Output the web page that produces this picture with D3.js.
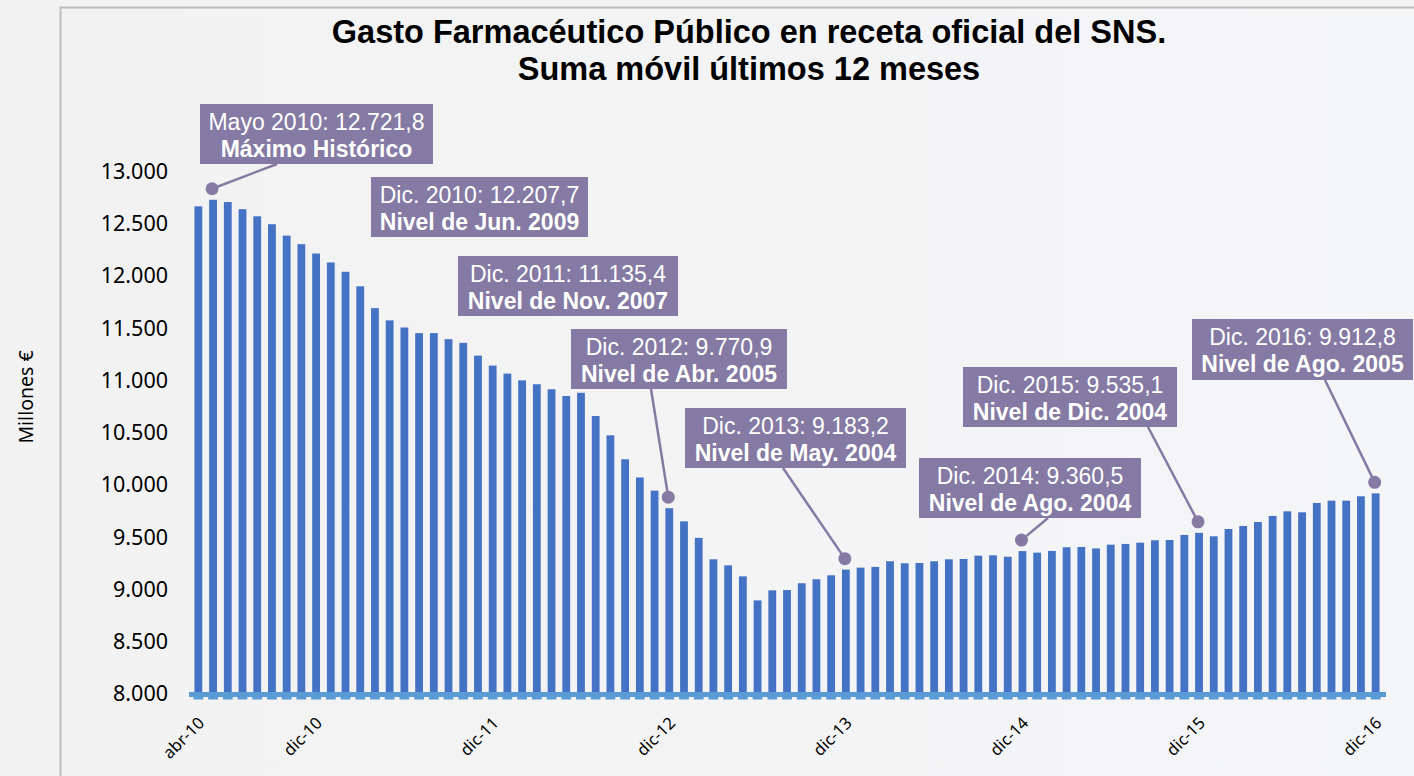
<!DOCTYPE html>
<meta charset="utf-8">
<style>
body { margin: 0; background: #f2f2f2; }
svg { display: block; }
.ytick text { font-family: "Noto Sans", sans-serif; font-size: 21.5px; fill: #000; }
.xtick text { font-family: "Noto Sans", sans-serif; font-size: 16.5px; fill: #000; }
.title { font-family: "Liberation Sans", Arial, sans-serif; font-weight: bold; font-size: 32.5px; fill: #000; }
.note { font-family: "Liberation Sans", Arial, sans-serif; font-size: 23px; fill: #fff; }
</style>
<svg width="1414" height="776"></svg>
<script src="https://cdn.jsdelivr.net/npm/d3@7"></script>
<script>
var width = 1414, height = 776;

// months abr-10 .. dic-16
var monthNames = ["ene","feb","mar","abr","may","jun","jul","ago","sep","oct","nov","dic"];
var months = [];
for (var yr = 10; yr <= 16; yr++) {
  for (var m = 0; m < 12; m++) {
    if (yr == 10 && m < 3) continue;
    months.push(monthNames[m] + "-" + yr);
  }
}

// suma movil 12 meses, millones de euros
var gasto = [
  12659, 12721.8, 12700, 12632, 12564, 12488, 12379, 12297, 12207.7,
  12122, 12033, 11894, 11685, 11568, 11500, 11446, 11446, 11388, 11353, 11231, 11135.4,
  11059, 10994, 10957, 10909, 10844, 10875, 10653, 10468, 10239, 10065, 9939, 9770.9,
  9645, 9487, 9282, 9224, 9119, 8889, 8985, 8988, 9053, 9091, 9129, 9183.2,
  9202, 9209, 9263, 9244, 9247, 9263, 9282, 9285, 9317, 9320, 9307, 9360.5,
  9346, 9362, 9397, 9400, 9386, 9422, 9429, 9441, 9464, 9467, 9515, 9535.1,
  9502, 9572, 9601, 9639, 9697, 9741, 9732, 9821, 9843, 9843, 9885, 9912.8
];

var xLabels = ["abr-10","dic-10","dic-11","dic-12","dic-13","dic-14","dic-15","dic-16"];
var yTicks = [8000, 8500, 9000, 9500, 10000, 10500, 11000, 11500, 12000, 12500, 13000];

var titleLines = ["Gasto Farmacéutico Público en receta oficial del SNS.", "Suma móvil últimos 12 meses"];
var yLabel = "Millones €";

// annotations
var noteMonth = ["may-10","dic-10","dic-11","dic-12","dic-13","dic-14","dic-15","dic-16"];
var noteLine1 = ["Mayo 2010: 12.721,8","Dic. 2010: 12.207,7","Dic. 2011: 11.135,4","Dic. 2012: 9.770,9",
                 "Dic. 2013: 9.183,2","Dic. 2014: 9.360,5","Dic. 2015: 9.535,1","Dic. 2016: 9.912,8"];
var noteLine2 = ["Máximo Histórico","Nivel de Jun. 2009","Nivel de Nov. 2007","Nivel de Abr. 2005",
                 "Nivel de May. 2004","Nivel de Ago. 2004","Nivel de Dic. 2004","Nivel de Ago. 2005"];
var noteMarker = [true, false, false, true, true, true, true, true];

// layout of the label boxes: x, y, w, h, connector x on box bottom
var noteBox = [
  [200, 104, 233, 60, 277],
  [371, 177, 217, 60, null],
  [458, 256, 220, 60, null],
  [571, 329, 216, 60, 651],
  [685, 408, 221, 60, 783],
  [919, 458, 222, 60, 1048],
  [963, 367, 214, 60, 1148],
  [1192, 319, 221, 61, 1325]
];

var svg = d3.select("svg");

// chart frame
var grad = svg.append("defs").append("linearGradient")
    .attr("id", "bg").attr("x1", 0).attr("y1", 0).attr("x2", 1).attr("y2", 0);
grad.append("stop").attr("offset", "0%").attr("stop-color", "#f2f2f2");
grad.append("stop").attr("offset", "100%").attr("stop-color", "#f4f5f7");
svg.append("rect").attr("x", 60).attr("y", 7).attr("width", width - 60).attr("height", height - 7)
    .attr("fill", "url(#bg)");
svg.append("path").attr("d", "M60.5," + height + "V7.5H" + width)
    .attr("fill", "none").attr("stroke", "#bdbdbd").attr("stroke-width", 2);

var x = d3.scaleBand()
    .domain(months)
    .range([191, 1383])
    .paddingInner(0.47)
    .paddingOuter(0.235);

var y = d3.scaleLinear()
    .domain([8000, 13000])
    .range([693.3, 170.7]);

var baseY = 697;

// title
svg.selectAll(".title").data(titleLines).enter().append("text")
    .attr("class", "title")
    .attr("x", 749)
    .attr("y", function(d, i) { return 43 + i * 37; })
    .attr("text-anchor", "middle")
    .text(function(d) { return d; });

// y axis (labels only)
var yAxis = d3.axisLeft(y).tickValues(yTicks).tickSize(0).tickPadding(0)
    .tickFormat(function(d) { return d3.format(",")(d).replace(/,/g, "."); });
var yg = svg.append("g").attr("class", "ytick").attr("transform", "translate(168,0)").call(yAxis);
yg.select(".domain").remove();
yg.selectAll("text").attr("dy", "0.35em");

svg.append("text")
    .attr("transform", "translate(33,397) rotate(-90)")
    .attr("text-anchor", "middle")
    .style("font-family", "Noto Sans, sans-serif")
    .style("font-size", "19.5px")
    .text(yLabel);

// bars
svg.selectAll(".bar").data(gasto).enter().append("rect")
    .attr("class", "bar")
    .attr("x", function(d, i) { return x(months[i]); })
    .attr("width", x.bandwidth())
    .attr("y", function(d) { return y(d); })
    .attr("height", function(d) { return baseY + 2 - y(d); })
    .attr("fill", "#4472c4");

// category axis line
svg.append("rect").attr("x", 189).attr("y", 692).attr("width", 1197).attr("height", 5).attr("fill", "#5b9bd5");
svg.selectAll(".tk").data(months).enter().append("rect")
    .attr("class", "tk")
    .attr("x", function(d) { return x(d) - 1; })
    .attr("y", 697)
    .attr("width", x.bandwidth() + 2)
    .attr("height", 2.5)
    .attr("fill", "#5b9bd5");

// x labels
var xAxis = d3.axisBottom(x).tickValues(xLabels).tickSize(0).tickPadding(0);
var xg = svg.append("g").attr("class", "xtick").attr("transform", "translate(0,716)").call(xAxis);
xg.select(".domain").remove();
xg.selectAll("text")
    .attr("y", 0).attr("dy", "0.35em")
    .attr("text-anchor", "end")
    .attr("transform", "translate(3,4) rotate(-45)");

// annotations
var notes = svg.selectAll(".note-g").data(noteMonth).enter().append("g").attr("class", "note-g");

notes.each(function(mo, i) {
  var g = d3.select(this);
  var b = noteBox[i];
  var idx = months.indexOf(mo);
  var cx = x(mo) + x.bandwidth() / 2 - 1;
  var cy = y(gasto[idx]) - 11;
  if (noteMarker[i]) {
    g.append("line")
      .attr("x1", b[4]).attr("y1", b[1] + b[3])
      .attr("x2", cx).attr("y2", cy)
      .attr("stroke", "#847aa3").attr("stroke-width", 2.5);
    g.append("circle").attr("cx", cx).attr("cy", cy).attr("r", 6.5).attr("fill", "#847aa3");
  }
  g.append("rect").attr("x", b[0]).attr("y", b[1]).attr("width", b[2]).attr("height", b[3])
    .attr("fill", "#847aa3");
  g.append("text").attr("class", "note")
    .attr("x", b[0] + b[2] / 2).attr("y", b[1] + 26)
    .attr("text-anchor", "middle")
    .text(noteLine1[i]);
  g.append("text").attr("class", "note")
    .attr("x", b[0] + b[2] / 2).attr("y", b[1] + 53)
    .attr("text-anchor", "middle")
    .style("font-weight", "bold")
    .text(noteLine2[i]);
});
</script>
